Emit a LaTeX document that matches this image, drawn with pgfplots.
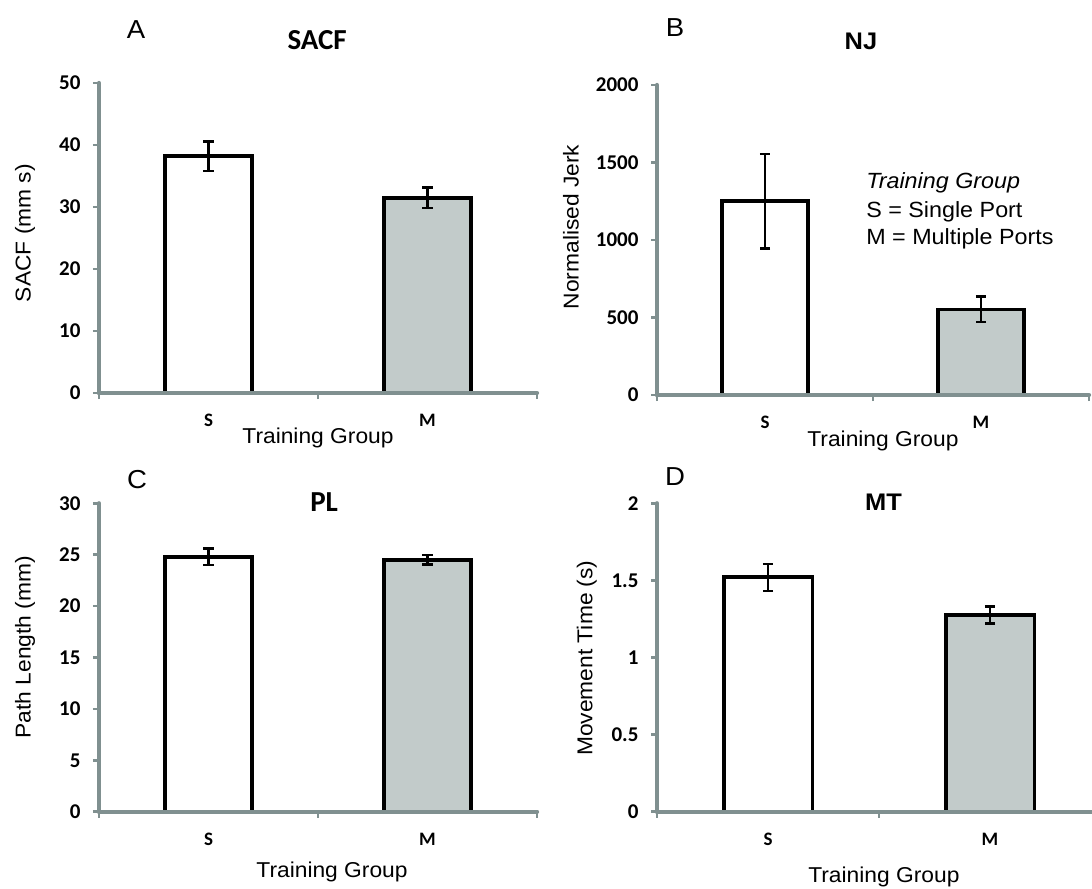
\documentclass[border=0pt]{standalone}
\usepackage{fontspec}
\setmainfont{Liberation Sans}[FakeStretch=1.06]
\newfontfamily\carlito{Carlito}
\usepackage{pgfplots}
\pgfplotsset{compat=1.18}
\definecolor{axgray}{HTML}{809090}
\definecolor{mfill}{HTML}{C2CBCA}
\pgfplotsset{
  panel/.style={
    scale only axis,
    axis on top,
    axis lines*=left,
    axis line style={axgray, line width=4.3bp, line cap=round},
    every tick/.style={axgray, line width=2.6bp},
    tick align=outside,
    major tick length=6bp,
    xmin=-0.5, xmax=1.5,
    ymin=0,
    ybar,
    xtick={-0.5,0.5,1.5}, xticklabels={},
    extra x ticks={0,1}, extra x tick labels={S,M},
    extra x tick style={major tick length=0pt, tick label style={font=\fontsize{19bp}{21bp}\carlito\bfseries, yshift=-18bp}},
    yticklabel style={font=\fontsize{21bp}{23bp}\carlito\bfseries, xshift=-9bp},
    /pgf/number format/assume math mode=true,
    /pgf/number format/1000 sep={},
    scaled y ticks=false,
    xlabel={Training Group},
    xlabel style={font=\fontsize{21.5bp}{24bp}\selectfont, anchor=center},
    ylabel style={font=\fontsize{21.5bp}{24bp}\selectfont, anchor=center, rotate=0},
    title style={anchor=center},
  },
  ebar/.style={
    error bars/.cd, y dir=both, y explicit,
    error bar style={line width=2.5bp, black},
    error mark options={rotate=90, mark size=5.2bp, line width=2.5bp, black}},
  sbar/.style={bar width=0.4, bar shift=0pt, fill=white, draw=black, line width=3.8bp, mark=none, ebar},
  mbar/.style={bar width=0.4, bar shift=0pt, fill=mfill, draw=black, line width=3.8bp, mark=none, ebar},
}
\begin{document}
\begin{tikzpicture}
\useasboundingbox (0,0) rectangle (1092bp,-889bp);
% Panel A
\begin{axis}[panel, at={(99bp,-393bp)}, anchor=south west, width=438bp, height=310bp,
  ymax=50, ytick={0,10,20,30,40,50},
  title={\fontsize{29bp}{31bp}\carlito\bfseries SACF},
  title style={at={(axis description cs:0.498,1.119)}},
  ylabel={SACF (mm s)}, ylabel style={at={(axis description cs:-0.169,0.516)}},
  xlabel style={at={(axis description cs:0.5,-0.145)}}]
\addplot[sbar] coordinates {(0,38.2) +- (0,2.4)};
\addplot[mbar] coordinates {(1,31.5) +- (0,1.65)};
\end{axis}
% Panel B
\begin{axis}[panel, at={(657bp,-395bp)}, anchor=south west, width=432bp, height=310bp,
  ymax=2000, ytick={0,500,1000,1500,2000},
  title={\fontsize{24bp}{26bp}\selectfont\bfseries NJ},
  title style={at={(axis description cs:0.472,1.122)}},
  ylabel={Normalised Jerk}, ylabel style={at={(axis description cs:-0.199,0.542)}},
  xlabel style={at={(axis description cs:0.523,-0.148)}}]
\addplot[sbar] coordinates {(0,1250) +- (0,305)};
\addplot[mbar] coordinates {(1,552) +- (0,82)};
\node[anchor=west, inner sep=0pt, font=\fontsize{22bp}{24bp}\selectfont\itshape] at (axis description cs:0.484,0.684) {Training Group};
\node[anchor=west, inner sep=0pt, font=\fontsize{22bp}{24bp}\selectfont] at (axis description cs:0.484,0.590) {S = Single Port};
\node[anchor=west, inner sep=0pt, font=\fontsize{22bp}{24bp}\selectfont] at (axis description cs:0.484,0.503) {M = Multiple Ports};
\end{axis}
% Panel C
\begin{axis}[panel, at={(99bp,-811.7bp)}, anchor=south west, width=438bp, height=308.4bp,
  ymax=30, ytick={0,5,10,15,20,25,30},
  title={\fontsize{29bp}{31bp}\carlito\bfseries PL},
  title style={at={(axis description cs:0.514,0.985)}},
  ylabel={Path Length (mm)}, ylabel style={at={(axis description cs:-0.169,0.534)}},
  xlabel style={at={(axis description cs:0.532,-0.196)}}]
\addplot[sbar] coordinates {(0,24.81) +- (0,0.8)};
\addplot[mbar] coordinates {(1,24.52) +- (0,0.45)};
\end{axis}
% Panel D
\begin{axis}[panel, at={(657bp,-811.7bp)}, anchor=south west, width=444bp, height=308.4bp,
  ymax=2, ytick={0,0.5,1,1.5,2},
  title={\fontsize{24bp}{26bp}\selectfont\bfseries MT},
  title style={at={(axis description cs:0.510,0.984)}},
  ylabel={Movement Time (s)}, ylabel style={at={(axis description cs:-0.158,0.498)}},
  xlabel style={at={(axis description cs:0.511,-0.212)}}]
\addplot[sbar] coordinates {(0,1.52) +- (0,0.088)};
\addplot[mbar] coordinates {(1,1.277) +- (0,0.055)};
\end{axis}
% panel letters
\node[font=\fontsize{26bp}{28bp}\selectfont] at (136bp,-30bp) {A};
\node[font=\fontsize{26bp}{28bp}\selectfont] at (675bp,-28bp) {B};
\node[font=\fontsize{26bp}{28bp}\selectfont] at (137bp,-480bp) {C};
\node[font=\fontsize{26bp}{28bp}\selectfont] at (675bp,-477bp) {D};
\end{tikzpicture}
\end{document}
